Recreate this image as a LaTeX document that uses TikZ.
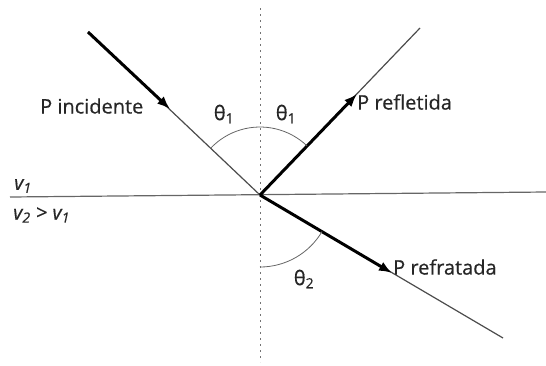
\documentclass[tikz,border=0pt]{standalone}
\usepackage{fontspec}
\setmainfont{Open Sans}
\newfontfamily\lblfont{Open Sans}[FakeBold=0.5]
\usetikzlibrary{arrows.meta}
\begin{document}
\begin{tikzpicture}[x=1pt,y=-1pt,
  thinray/.style={draw=black!70,line width=1.2pt},
  thickray/.style={draw=black,line width=3pt,-{Latex[length=13pt,width=10pt]}},
  arcline/.style={draw=black!60,line width=0.8pt},
  lbl/.style={font=\lblfont\fontsize{20}{22}\selectfont,inner sep=0pt,text=black!85}]
\useasboundingbox (0,0) rectangle (546,365);
\coordinate (O) at (260,195);
\coordinate (A) at (88,32);
\coordinate (Ai) at (170,109);
\coordinate (R) at (420,28);
\coordinate (Ri) at (357,94);
\coordinate (T) at (503,338);
\coordinate (Ti) at (392,273);
\coordinate (L) at (10,197);
\coordinate (Rr) at (546,192);
\coordinate (Vt) at (260,8);
\coordinate (Vb) at (260,362);
% interface and normal
\draw[draw=black!60,line width=1.2pt] (L) -- (Rr);
\draw[draw=black!55,line width=0.9pt,dash pattern=on 2pt off 4pt] (Vt) -- (Vb);
% thin rays
\draw[thinray] (A) -- (O);
\draw[thinray] (O) -- (R);
\draw[thinray] (O) -- (T);
% thick arrows
\draw[thickray] (A) -- (Ai);
\draw[thickray] (O) -- (Ri);
\draw[thickray] (O) -- (Ti);
% arcs
\draw[arcline] (O) ++(223.5:68) arc[start angle=223.5,end angle=313.8,radius=68];
\draw[arcline] (O) ++(90:72) arc[start angle=90,end angle=30.5,radius=72];
% labels
\node[lbl,anchor=west] (pinc) at (40,106) {P incidente};
\node[lbl] (t1a) at (224,114) {θ\textsubscript{1}};
\node[lbl] (t1b) at (286,114) {θ\textsubscript{1}};
\node[lbl,anchor=west] (pref) at (357,102) {P refletida};
\node[lbl,anchor=west] (prefr) at (393,267) {P refratada};
\node[lbl] (t2) at (304,279) {θ\textsubscript{2}};
\node[lbl,anchor=west] (v1) at (14,186) {\itshape v\textsubscript{1}};
\node[lbl,anchor=west] (v2) at (13,215) {\itshape v\textsubscript{2} > v\textsubscript{1}};
\end{tikzpicture}
\end{document}
